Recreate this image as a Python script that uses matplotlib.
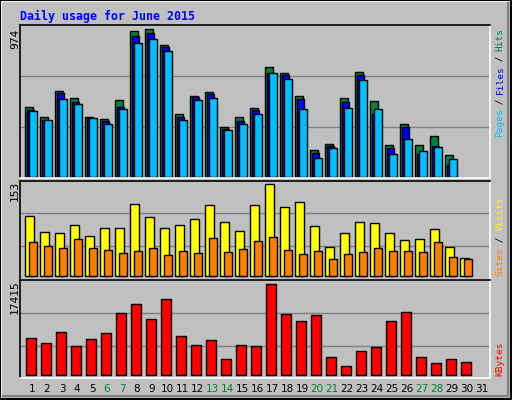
import numpy as np
import matplotlib.pyplot as plt

days = np.arange(1, 32)
hits = [458, 392, 566, 518, 392, 379, 507, 961, 974, 868, 412, 531, 558, 326, 392,
        452, 723, 683, 531, 174, 214, 518, 690, 498, 207, 346, 207, 267, 141, 0, 0]
files = [441, 375, 551, 491, 388, 366, 463, 928, 948, 855, 392, 524, 544, 313, 366,
         439, 683, 670, 511, 154, 201, 491, 670, 412, 187, 326, 148, 201, 75, 0, 0]
pages = [432, 375, 513, 480, 388, 346, 445, 881, 908, 829, 372, 505, 518, 306, 346,
         412, 683, 643, 445, 121, 187, 452, 637, 445, 148, 247, 167, 194, 115, 0, 0]
visits = [100, 73, 72, 85, 67, 80, 81, 120, 98, 81, 86, 95, 118, 90, 76,
          118, 153, 116, 123, 83, 48, 72, 91, 88, 72, 60, 62, 78, 48, 30, 0]
sites = [57, 50, 47, 62, 47, 43, 38, 42, 47, 35, 42, 38, 63, 40, 45,
         58, 65, 43, 37, 42, 28, 37, 40, 47, 42, 42, 40, 57, 32, 28, 0]
kbytes = [7082, 6125, 8230, 5550, 6890, 8039, 11867, 13589, 10718, 14546, 7465, 5742, 6699, 3062, 5742,
          5550, 17415, 11675, 10336, 11484, 3445, 1723, 4594, 5359, 10336, 12058, 3445, 2297, 3062, 2488, 0]
weekend = [6, 7, 13, 14, 20, 21, 27, 28]

W, H = 512, 400
BG = '#C0C0C0'
mono = 'DejaVu Sans Mono'

fig = plt.figure(figsize=(W / 100, H / 100), dpi=100, facecolor=BG)

# outer border and bevel
frame = fig.add_axes([0, 0, 1, 1])
frame.set_xlim(0, W)
frame.set_ylim(H, 0)
frame.axis('off')
frame.plot([1, 1, W - 2], [H - 2, 1, 1], color='white', lw=1.5)
frame.plot([3, W - 4, W - 4], [H - 4, H - 4, 3], color='#808080', lw=1.5)
frame.plot([0, W - 1, W - 1, 0, 0], [0, 0, H - 1, H - 1, 0], color='black', lw=1.5)


def panel(top, bottom, ymin, ymax):
    ax = fig.add_axes([20 / W, 1 - bottom / H, 470 / W, (bottom - top) / H])
    ax.set_facecolor(BG)
    ax.set_xlim(0.267, 31.6)
    ax.set_ylim(ymin, ymax)
    ax.set_xticks([])
    ax.set_yticks([])
    for s in ax.spines.values():
        s.set_color('white')
        s.set_linewidth(1.2)
    ax.spines['top'].set_color('black')
    ax.spines['left'].set_color('black')
    return ax


def bars(ax, vals, off, width, color):
    v = np.array(vals)
    m = v > 0
    ax.bar(days[m] + off, v[m], width, color=color, edgecolor='black',
           linewidth=1, align='edge')


ax1 = panel(25, 178, -8.6, 1002)
for g in (0.34, 0.68):
    ax1.axhline(974 * g, color='#808080', lw=1, zorder=0)
bars(ax1, hits, -0.38, 0.49, '#008040')
bars(ax1, files, -0.27, 0.49, '#0000FF')
bars(ax1, pages, -0.11, 0.49, '#00C0FF')

ax2 = panel(181, 280, -6.2, 158.5)
for g in (0.33, 0.685):
    ax2.axhline(153 * g, color='#808080', lw=1, zorder=0)
bars(ax2, visits, -0.4, 0.6, '#FFFF00')
bars(ax2, sites, -0.13, 0.53, '#FF8000')

ax3 = panel(280, 378, -517, 18238)
for g in (0.32, 0.68):
    ax3.axhline(17415 * g, color='#808080', lw=1, zorder=0)
bars(ax3, kbytes, -0.33, 0.67, '#FF0000')

# title
frame.text(20, 16, 'Daily usage for June 2015', color='#0000FF', fontsize=8.4,
           fontweight='bold', family=mono, va='center', ha='left')

# left max labels
for y, lab in [(39, '974'), (191, '153'), (297, '17415')]:
    frame.text(15, y, lab, rotation=90, fontsize=8, family=mono,
               ha='center', va='center', color='black')

# right legends
def side(pieces, y0, step=5.4):
    i = 0
    for txt, col in pieces:
        frame.text(500, y0 - i * step, txt, color=col, rotation=90, fontsize=6.8,
                   family=mono, ha='center', va='bottom')
        i += len(txt)

side([('Pages', '#00C0FF'), (' / ', 'black'), ('Files', '#0000FF'),
      (' / ', 'black'), ('Hits', '#008040')], 137)
side([('Sites', '#FF8000'), (' / ', 'black'), ('Visits', '#FFFF00')], 276, 5.6)
side([('KBytes', '#FF0000')], 376, 5.6)

# day labels
for d in days:
    frame.text(16 + 15 * d + 1, 389, str(d), fontsize=7.5, ha='center', va='center',
               color='#008040' if d in weekend else 'black')

fig.savefig('out.png', dpi=100, facecolor=BG)
